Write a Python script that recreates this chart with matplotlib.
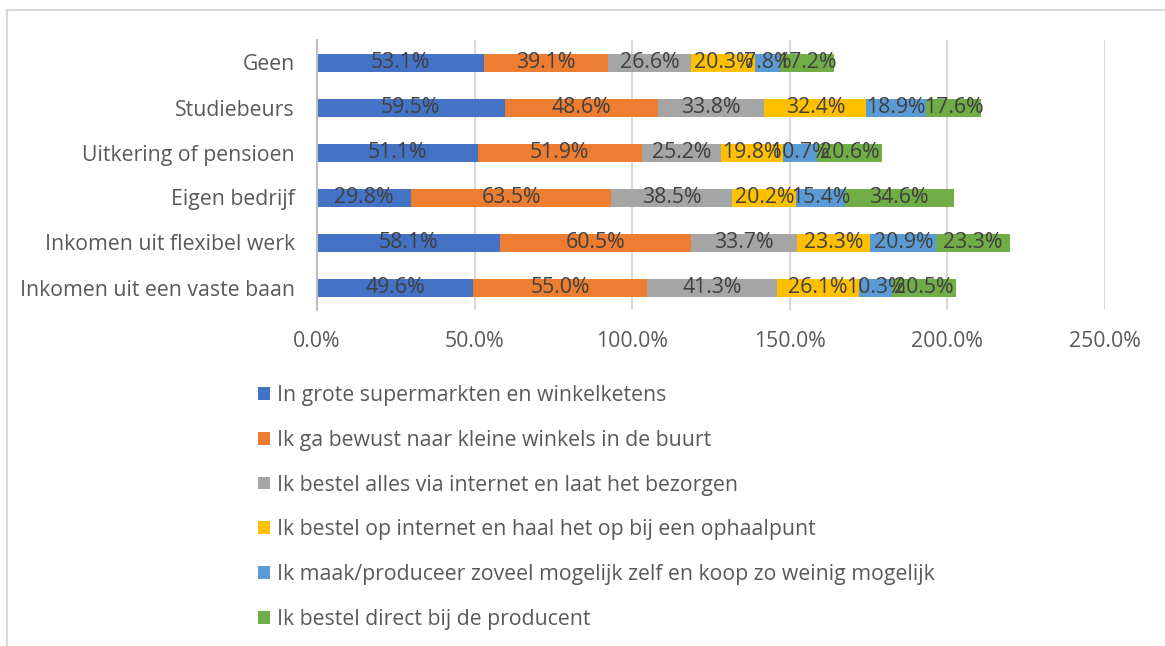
import matplotlib
matplotlib.use("Agg")
import matplotlib.pyplot as plt
from matplotlib.lines import Line2D

plt.rcParams['font.family'] = ['Open Sans', 'DejaVu Sans']

categories = ['Geen', 'Studiebeurs', 'Uitkering of pensioen', 'Eigen bedrijf',
              'Inkomen uit flexibel werk', 'Inkomen uit een vaste baan']

series_names = ['In grote supermarkten en winkelketens',
                'Ik ga bewust naar kleine winkels in de buurt',
                'Ik bestel alles via internet en laat het bezorgen',
                'Ik bestel op internet en haal het op bij een ophaalpunt',
                'Ik maak/produceer zoveel mogelijk zelf en koop zo weinig mogelijk',
                'Ik bestel direct bij de producent']

supermarkt = [53.1, 59.5, 51.1, 29.8, 58.1, 49.6]
kleine_winkels = [39.1, 48.6, 51.9, 63.5, 60.5, 55.0]
bezorgen = [26.6, 33.8, 25.2, 38.5, 33.7, 41.3]
ophaalpunt = [20.3, 32.4, 19.8, 20.2, 23.3, 26.1]
zelf_maken = [7.8, 18.9, 10.7, 15.4, 20.9, 10.3]
producent = [17.2, 17.6, 20.6, 34.6, 23.3, 20.5]

x_ticks = [0, 50, 100, 150, 200, 250]

colors = ['#4472C4', '#ED7D31', '#A5A5A5', '#FFC000', '#5B9BD5', '#70AD47']
all_series = [supermarkt, kleine_winkels, bezorgen, ophaalpunt, zelf_maken, producent]
fs = 15.3

fig = plt.figure(figsize=(11.65, 6.46), dpi=100)
ax = fig.add_axes([317/1165, 1 - 310/646, (1105 - 317)/1165, 270/646])

ypos = list(range(len(categories)))
left = [0.0] * len(categories)
for name, vals, col in zip(series_names, all_series, colors):
    bars = ax.barh(ypos, vals, left=left, height=0.4, color=col, label=name, zorder=2)
    ax.bar_label(bars, labels=[f'{v:.1f}%' for v in vals], label_type='center',
                 color='#404040', fontsize=fs)
    left = [l + v for l, v in zip(left, vals)]

ax.set_ylim(len(categories) - 0.5, -0.5)
ax.set_xlim(0, 250)
ax.set_yticks(ypos)
ax.set_yticklabels(categories)
ax.set_xticks(x_ticks)
ax.set_xticklabels([f'{t:.1f}%' for t in x_ticks])
ax.tick_params(length=0, labelsize=fs, labelcolor='#595959')
ax.tick_params(axis='y', pad=16)
ax.tick_params(axis='x', pad=15)
ax.grid(axis='x', color='#D9D9D9', linewidth=1.5, zorder=0)
for s in ['top', 'right', 'bottom']:
    ax.spines[s].set_visible(False)
ax.spines['left'].set_color('#BFBFBF')
ax.spines['left'].set_linewidth(1.5)
ax.spines['left'].set_zorder(3)

leg = fig.legend(loc='upper left', bbox_to_anchor=(258/1165, 1 - 385/646),
                 frameon=False, fontsize=fs, labelcolor='#595959',
                 handlelength=0.55, handleheight=0.55, handletextpad=0.35,
                 labelspacing=1.12, borderaxespad=0, borderpad=0)

# chart border (only top and left visible)
fig.add_artist(Line2D([7/1165, 1], [1 - 10/646, 1 - 10/646], color='#D9D9D9', linewidth=1.5))
fig.add_artist(Line2D([7/1165, 7/1165], [0, 1 - 10/646], color='#D9D9D9', linewidth=1.5))

fig.savefig('out.png', dpi=100)
